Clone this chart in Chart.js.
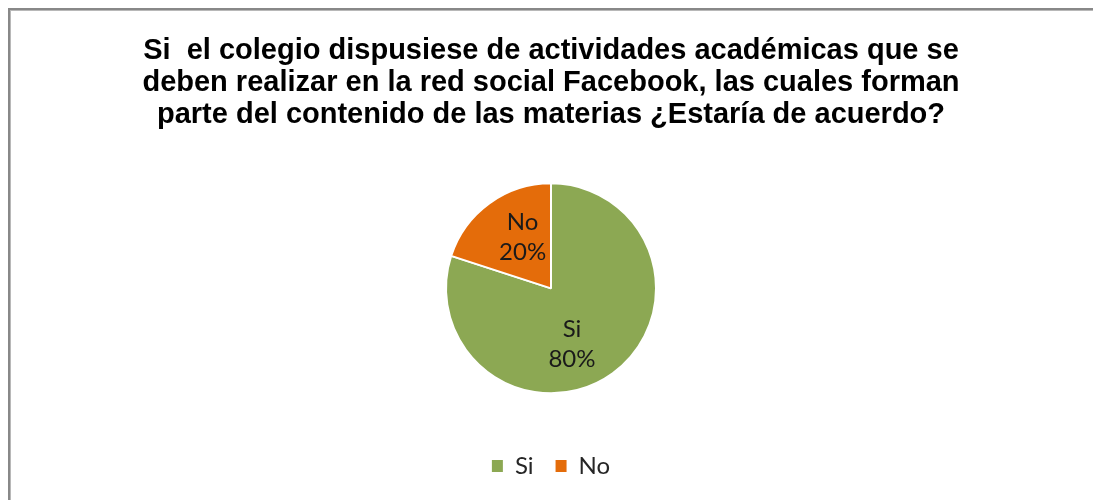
<!DOCTYPE html>
<html>
<head>
<meta charset="utf-8">
<script src="https://cdn.jsdelivr.net/npm/chart.js@4.4.1/dist/chart.umd.min.js"></script>
<style>
  html, body { margin: 0; padding: 0; background: #ffffff; }
  #frame {
    position: absolute; left: 0; top: 0; width: 1093px; height: 500px; overflow: hidden;
  }
  #edge {
    position: absolute; left: 8px; top: 8px; width: 1200px; height: 600px;
    border-left: 2px solid #888888; border-top: 2px solid #888888;
    box-shadow: inset 1px 1px 0 #b8b8b8;
  }
  canvas { position: absolute; left: 0; top: 0; }
</style>
</head>
<body>
<div id="frame">
  <div id="edge"></div>
  <canvas id="chart" width="1093" height="500"></canvas>
</div>
<script>
// Respuestas de la encuesta
const categories = ['Si', 'No'];
const percentages = [80, 20];
const sliceColors = ['#8CA853', '#E46C0A'];
const titleLines = [
  'Si  el colegio dispusiese de actividades académicas que se',
  'deben realizar en la red social Facebook, las cuales forman',
  'parte del contenido de las materias ¿Estaría de acuerdo?'
];

// Etiqueta de categoría y porcentaje dentro de cada sector
const sliceLabels = {
  id: 'sliceLabels',
  afterDatasetsDraw(chart, args, opts) {
    const ctx = chart.ctx;
    const meta = chart.getDatasetMeta(0);
    ctx.save();
    ctx.font = opts.font;
    ctx.fillStyle = opts.color;
    ctx.textAlign = 'center';
    ctx.textBaseline = 'middle';
    meta.data.forEach((arc, i) => {
      const p = arc.getProps(['x', 'y', 'startAngle', 'endAngle', 'outerRadius'], true);
      const mid = (p.startAngle + p.endAngle) / 2 + (opts.angleShift[i] || 0);
      const r = p.outerRadius * opts.radial[i];
      const cx = p.x + Math.cos(mid) * r;
      const cy = p.y + Math.sin(mid) * r;
      ctx.fillText(categories[i], cx, cy - opts.lineGap / 2);
      ctx.fillText(percentages[i] + '%', cx, cy + opts.lineGap / 2);
    });
    ctx.restore();
  }
};

const baseLabels = Chart.controllers.pie.overrides.plugins.legend.labels.generateLabels;

new Chart(document.getElementById('chart'), {
  type: 'pie',
  data: {
    labels: categories,
    datasets: [{
      data: percentages,
      backgroundColor: sliceColors,
      borderColor: '#ffffff',
      borderWidth: 2,
      radius: 105
    }]
  },
  options: {
    responsive: false,
    animation: false,
    events: [],
    layout: { padding: { left: 9, right: 0, top: 0, bottom: 12 } },
    plugins: {
      title: {
        display: true,
        text: titleLines,
        color: '#000000',
        font: { family: 'Liberation Sans, Arial, sans-serif', size: 29, weight: 'bold', lineHeight: 1.1 },
        padding: { top: 35, bottom: 14 }
      },
      legend: {
        display: true,
        position: 'bottom',
        labels: {
          color: '#262626',
          font: { family: 'Lato, sans-serif', size: 24 },
          boxWidth: 11,
          boxHeight: 12,
          padding: 22,
          // legend swatches without the white slice outline
          generateLabels(chart) {
            return baseLabels(chart).map(item => Object.assign(item, { lineWidth: 0, strokeStyle: item.fillStyle }));
          }
        }
      },
      tooltip: { enabled: false },
      sliceLabels: {
        font: '24px Lato, sans-serif',
        color: '#1a1a1a',
        lineGap: 30,
        radial: [0.57, 0.555],
        angleShift: [0.27, 0.12]
      }
    }
  },
  plugins: [sliceLabels]
});
</script>
</body>
</html>
